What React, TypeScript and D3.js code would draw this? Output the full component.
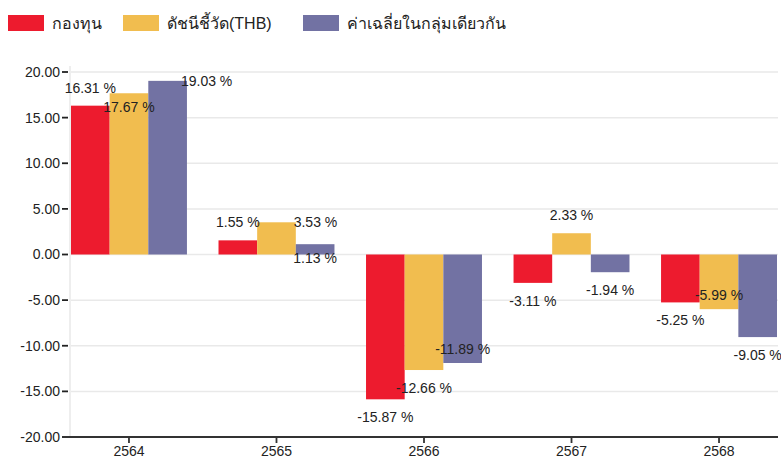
import React from 'react';
import * as d3 from 'd3';

const years = ['2564', '2565', '2566', '2567', '2568'];
const seriesNames = ['กองทุน', 'ดัชนีชี้วัด(THB)', 'ค่าเฉลี่ยในกลุ่มเดียวกัน'];
const fund = [16.31, 1.55, -15.87, -3.11, -5.25];
const benchmark = [17.67, 3.53, -12.66, 2.33, -5.99];
const peerAvg = [19.03, 1.13, -11.89, -1.94, -9.05];
const yTicks = [20, 15, 10, 5, 0, -5, -10, -15, -20];
const colors = ['#ED1B2E', '#F1BD4F', '#7272A3'];

// where each value label sits relative to its bar (the original layout dodges overlaps)
const labelPlace = [
  ['out', 'in', 'right'],
  ['out', 'right', 'in'],
  ['out', 'out', 'in'],
  ['out', 'out', 'out'],
  ['out', 'in', 'out'],
];

const W = 781;
const H = 460;
const margin = { top: 72, right: 4, bottom: 23, left: 71 };
const FONT = '"Liberation Sans", Arial, sans-serif';

// plain hyphen instead of d3's unicode minus
const fmt = (v: number) => d3.format('.2f')(v).replace('\u2212', '-');

export default function App() {
  const series = [fund, benchmark, peerAvg];

  const x = d3.scaleBand<string>()
    .domain(years)
    .range([margin.left, W - margin.right])
    .paddingInner(0.214)
    .paddingOuter(0);

  const xInner = d3.scaleBand<number>()
    .domain([0, 1, 2])
    .range([0, x.bandwidth()]);

  const y = d3.scaleLinear()
    .domain([-20, 20])
    .range([H - margin.bottom, margin.top]);

  return (
    <svg width={W} height={H} style={{ position: 'absolute', left: 0, top: 0, fontFamily: FONT }}>
      <rect width={W} height={H} fill="#fff" />

      {/* legend */}
      {[0, 1, 2].map((i) => {
        const lx = [8, 123, 303][i];
        return (
          <g key={i} transform={`translate(${lx},15)`}>
            <rect width={36} height={16} fill={colors[i]} />
            <text x={44} y={14} fontSize={16} fill="#222">{seriesNames[i]}</text>
          </g>
        );
      })}

      {/* grid */}
      {yTicks.map((t) => (
        <line key={t} x1={margin.left} x2={W - 3} y1={y(t)} y2={y(t)} stroke="#e9e9e9" strokeWidth={1.5} />
      ))}
      <line x1={margin.left - 1} x2={margin.left - 1} y1={y(20) - 6} y2={y(-20)} stroke="#e9e9e9" strokeWidth={1.5} />

      {/* y axis */}
      {yTicks.map((t) => (
        <g key={t} transform={`translate(0,${y(t)})`}>
          <line x1={margin.left - 9} x2={margin.left - 3} stroke="#222" strokeWidth={1.8} />
          <text x={margin.left - 11} dy="0.35em" textAnchor="end" fontSize={14} fill="#222">{fmt(t)}</text>
        </g>
      ))}

      {/* bars */}
      {years.map((yr, ci) => (
        <g key={yr} transform={`translate(${x(yr)},0)`}>
          {series.map((s, si) => {
            const v = s[ci];
            return (
              <rect
                key={si}
                x={xInner(si)}
                width={xInner.bandwidth()}
                y={Math.min(y(v), y(0))}
                height={Math.abs(y(v) - y(0))}
                fill={colors[si]}
              />
            );
          })}
        </g>
      ))}

      {/* value labels */}
      {years.map((yr, ci) =>
        series.map((s, si) => {
          const v = s[ci];
          const cx = (x(yr) ?? 0) + (xInner(si) ?? 0) + xInner.bandwidth() / 2;
          const end = y(v);
          const dir = v >= 0 ? -1 : 1;
          const place = labelPlace[ci][si];
          let lx = cx;
          let ly = end + dir * 18;
          if (place === 'in') ly = end - dir * 14;
          if (place === 'right') { lx = cx + 39; ly = end; }
          return (
            <text key={`${ci}-${si}`} x={lx} y={ly} dy="0.35em" textAnchor="middle" fontSize={14} fill="#222">
              {`${fmt(v)} %`}
            </text>
          );
        })
      )}

      {/* x axis */}
      <line x1={margin.left - 9} x2={W - 3} y1={y(-20)} y2={y(-20)} stroke="#333" strokeWidth={2} />
      {years.map((yr) => {
        const cx = (x(yr) ?? 0) + x.bandwidth() / 2;
        return (
          <g key={yr} transform={`translate(${cx},${y(-20)})`}>
            <line y2={6} stroke="#333" strokeWidth={1.8} />
            <text y={14} dy="0.35em" textAnchor="middle" fontSize={14} fill="#222">{yr}</text>
          </g>
        );
      })}
    </svg>
  );
}
